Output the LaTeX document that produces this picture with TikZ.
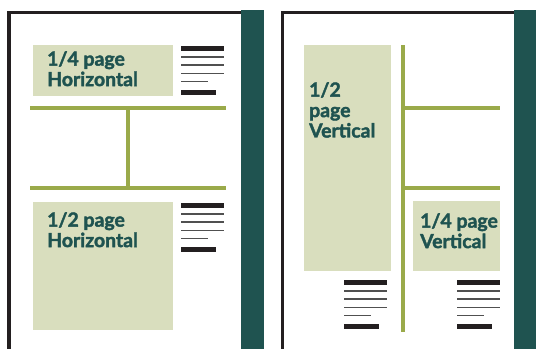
\documentclass[tikz,border=0pt]{standalone}
\usepackage{fontspec}
\setsansfont{Lato}[BoldFeatures={FakeBold=2}]
\usetikzlibrary{positioning}
\definecolor{adfill}{RGB}{217,222,190}
\definecolor{rulegreen}{RGB}{154,170,74}
\definecolor{spinegreen}{RGB}{31,83,80}
\definecolor{labelteal}{RGB}{31,83,80}
\definecolor{inkblack}{RGB}{35,31,32}
\definecolor{inkgrey}{RGB}{80,80,80}
\tikzset{
    pageframe/.style={draw=inkblack, line width=3.5bp},
    spine/.style={fill=spinegreen},
    adbox/.style={
        rectangle, fill=adfill, inner sep=0pt, anchor=north west
    },
    adlabel/.style={
        inner sep=0pt, anchor=north west, align=left, text=labelteal,
        font=\fontsize{19.5}{20.5}\selectfont\sffamily\bfseries
    },
    divider/.style={draw=rulegreen, line width=3.2bp},
    thickline/.style={draw=inkblack, line width=4.8bp},
    thinline/.style={draw=inkgrey, line width=1.5bp}
}
% dummy copy beside an ad: #1,#2 = top left corner
\newcommand{\copylines}[2]{%
    \draw[thickline] (#1,#2+2.3) -- ++(43,0);
    \foreach \dy in {11,19,27.3}
        \draw[thinline] (#1,#2+\dy) -- ++(43,0);
    \draw[thinline] (#1,#2+35.5) -- ++(27,0);
    \draw[thickline] (#1,#2+46.3) -- ++(35,0);
}

\begin{document}
\begin{tikzpicture}[x=1bp, y=-1bp]
\useasboundingbox (0,0) rectangle (536,348);
\clip (0,0) rectangle (536,348);

% Pages
\draw[pageframe] (9,360) -- (9,12.5) -- (250,12.5);
\fill[spine] (240.5,10) rectangle (264,360);
\draw[pageframe] (282.5,360) -- (282.5,12.5) -- (520,12.5);
\fill[spine] (514,10) rectangle (536,360);

% Ads, left page
\node[adbox, minimum width=140bp, minimum height=51bp] (qh) at (33,45) {};
\node[adbox, minimum width=140bp, minimum height=128bp] (hh) at (33,202) {};
\node[adlabel, below right=6bp and 14bp of qh.north west] (qhtext) {1/4 page\\Horizontal};
\node[adlabel, below right=10bp and 14bp of hh.north west] (hhtext) {1/2 page\\Horizontal};

% Ads, right page
\node[adbox, minimum width=87bp, minimum height=226bp] (hv) at (304,45) {};
\node[adbox, minimum width=87bp, minimum height=70bp] (qv) at (413,201) {};
\node[adlabel, below right=37bp and 5bp of hv.north west] (hvtext) {1/2\\page\\Vertical};
\node[adlabel, below right=12bp and 7bp of qv.north west] (qvtext) {1/4 page\\Vertical};

% Rules
\coordinate (lt) at (128,108);
\coordinate (lb) at (128,188);
\draw[divider] (30,108) -- (226,108);
\draw[divider] (30,188) -- (226,188);
\draw[divider] (lt) -- (lb);
\coordinate (rt) at (403,108);
\coordinate (rb) at (403,188);
\draw[divider] (403,45) -- (403,332);
\draw[divider] (rt) -- (500,108);
\draw[divider] (rb) -- (500,188);

% Copy
\copylines{181}{46}
\copylines{181}{203}
\copylines{344}{280}
\copylines{457}{280}

\end{tikzpicture}
\end{document}
